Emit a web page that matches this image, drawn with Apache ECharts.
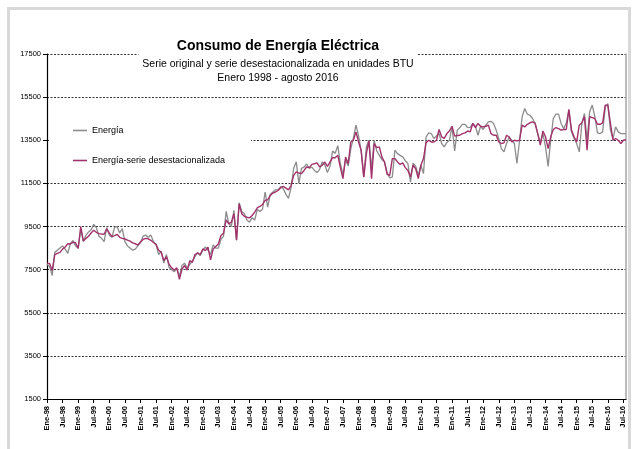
<!DOCTYPE html>
<html><head><meta charset="utf-8">
<script src="https://cdn.jsdelivr.net/npm/echarts@6/dist/echarts.min.js"></script>
<style>html,body{margin:0;padding:0;background:#fff}#c{width:636px;height:449px}</style>
</head><body><div id="c"></div>
<script>
const monthNames = ['Ene','Feb','Mar','Abr','May','Jun','Jul','Ago','Sep','Oct','Nov','Dic'];
const firstYear = 1998;
const lastYear = 2016;
const lastMonth = 8; // agosto
const categories = [];
for (let y = firstYear; y <= lastYear; y++) {
  for (let m = 0; m < 12; m++) {
    if (y === lastYear && m >= lastMonth) break;
    categories.push(monthNames[m] + '-' + String(y).slice(2));
  }
}

const energia = [
  7750, 7650, 7230, 8300, 8400, 8500, 8600, 8450, 8250, 8700, 8850, 8600,
  8500, 9350, 8800, 9100, 9250, 9350, 9600, 9450, 9050, 8950, 8800, 9450,
  9100, 9000, 9450, 9500, 9200, 9400, 8800, 8600, 8500, 8400, 8450, 8600,
  8750, 9050, 9100, 9000, 9100, 8800, 8650, 8200, 8350, 7800, 8200, 7600,
  7500, 7400, 7550, 7200, 7700, 7800, 7550, 7750, 7900, 8100, 8300, 8150,
  8400, 8550, 8400, 8200, 8650, 8500, 8500, 8900, 9050, 10200, 9650, 9500,
  10250, 8850, 10600, 10200, 10100, 9800, 9700, 9900, 9800, 10300, 10200, 10300,
  11100, 10400, 11000, 11100, 11200, 11200, 11350, 11250, 11000, 10800, 11300, 12200,
  12500, 11500, 12200, 12250, 12400, 12200, 12250, 12100, 12000, 12150, 12500, 12350,
  12000, 12300, 13000, 12900, 13250, 12400, 11900, 12600, 12300, 13100, 13600, 14200,
  13700, 13000, 11800, 13200, 13500, 12200, 13500, 13000, 12800, 12600, 12500, 12000,
  11750, 11800, 13040, 12880, 12800, 12730, 12550, 12420, 11560, 12440, 12300, 11870,
  12340, 11950, 13650, 13840, 13810, 13580, 13700, 13810, 13350, 13190, 13400, 13500,
  14120, 13000, 13960, 14090, 14240, 14240, 14090, 14100, 14280, 14150, 13730, 14150,
  14000, 14200, 14350, 14380, 14280, 13970, 13580, 13110, 12960, 13350, 13650, 13500,
  13350, 12420, 13500, 14590, 14970, 14710, 14660, 14510, 14280, 13810, 13380, 13810,
  13190, 12290, 13500, 14510, 14710, 14710, 14280, 14040, 14300, 14900, 13890, 13580,
  13350, 12960, 14280, 14740, 13500, 14820, 15130, 14590, 13840, 13810, 13890, 15050,
  15200, 13970, 13580, 14120, 13890, 13810, 13810, 13800
];

const energiaDesest = [
  7800, 7780, 7450, 8200, 8250, 8300, 8450, 8550, 8700, 8690, 8760, 8750,
  8480, 9500, 8830, 8950, 9050, 9200, 9330, 9230, 9170, 9150, 9140, 9390,
  9190, 9030, 9080, 9140, 9000, 8950, 8920, 8870, 8820, 8740, 8700, 8640,
  8780, 8900, 8950, 8930, 8860, 8760, 8670, 8400, 8300, 7920, 8100, 7760,
  7580, 7480, 7580, 7050, 7530, 7690, 7480, 7920, 7840, 8200, 8260, 8200,
  8460, 8380, 8540, 7950, 8460, 8570, 8690, 9080, 9190, 9810, 9620, 9700,
  10090, 8880, 10550, 10090, 9970, 9930, 9900, 10010, 10170, 10370, 10430, 10520,
  10710, 10740, 10940, 11050, 11100, 11170, 11300, 11360, 11280, 11200, 11400, 11870,
  12030, 11980, 11950, 12100, 12260, 12230, 12380, 12410, 12450, 12260, 12340, 12490,
  12290, 12490, 12690, 12690, 12800, 12230, 11720, 12720, 12410, 13420, 13500, 13890,
  13420, 13030, 11790, 12880, 13470, 11720, 13340, 13160, 13190, 12720, 12490, 11920,
  11870, 12650, 12650, 12490, 12380, 12450, 12230, 12100, 11800, 12340, 12180, 11720,
  12340, 12650, 13380, 13500, 13420, 13420, 13500, 14000, 13660, 13580, 13810, 13930,
  14150, 13690, 13720, 13730, 13810, 13840, 13930, 13890, 14280, 14090, 14280, 14150,
  14120, 14150, 14200, 13810, 13730, 13730, 13420, 13350, 13380, 13730, 13650, 13420,
  13500, 13470, 13500, 14200, 14120, 14240, 14310, 14350, 14280, 13810, 13270, 13930,
  13660, 13110, 13660, 14000, 14090, 14040, 13970, 14000, 14000, 14930, 13970, 13660,
  13420, 14200, 14310, 14590, 13040, 14590, 14550, 14510, 14240, 14240, 14310, 15130,
  15130, 14280, 13500, 13580, 13500, 13350, 13500, 13530
];

const yTicks = [1500, 3500, 5500, 7500, 9500, 11500, 13500, 15500, 17500];
const yMin = 1500, yMax = 17500;

const titleText = 'Consumo de Energía Eléctrica';
const subText = 'Serie original y serie desestacionalizada en unidades BTU\nEnero 1998 - agosto 2016';
const seriesNames = ['Energía', 'Energía-serie desestacionalizada'];

const chart = echarts.init(document.getElementById('c'), null, {renderer: 'canvas'});
const FONT = '"Liberation Sans", Arial, sans-serif';
chart.setOption({
  backgroundColor: '#fff',
  animation: false,
  textStyle: {fontFamily: FONT},
  graphic: [{
    type: 'rect', z: 100, silent: true,
    shape: {x: 8.5, y: 8.5, width: 621, height: 450},
    style: {fill: 'none', stroke: '#d9d9d9', lineWidth: 3}
  }],
  title: {
    text: titleText,
    subtext: subText,
    left: 274, top: 35,
    textAlign: 'center',
    padding: [4, 4, 5, 4],
    itemGap: 4,
    backgroundColor: '#fff',
    z: 10,
    textStyle: {fontFamily: FONT, fontSize: 14, fontWeight: 'bold', color: '#000'},
    subtextStyle: {fontFamily: FONT, fontSize: 10.5, color: '#000', lineHeight: 14}
  },
  legend: {
    orient: 'vertical',
    left: 49, top: 121,
    padding: [4, 26, 6, 24],
    itemGap: 19,
    icon: 'rect',
    itemWidth: 14, itemHeight: 1.6,
    backgroundColor: '#fff',
    z: 10,
    textStyle: {fontFamily: FONT, fontSize: 9, color: '#000', lineHeight: 11},
    data: seriesNames
  },
  grid: {left: 47, right: 10, top: 54, bottom: 50, containLabel: false},
  xAxis: {
    type: 'category',
    data: categories,
    boundaryGap: false,
    axisLine: {lineStyle: {color: '#000', width: 1.2}},
    axisTick: {show: true, interval: 5, length: 4, inside: false, lineStyle: {color: '#000'}},
    axisLabel: {interval: 5, rotate: 90, fontSize: 7.5, fontWeight: 'bold', color: '#000', margin: 7, fontFamily: FONT},
    splitLine: {show: false}
  },
  yAxis: [{
    type: 'value',
    min: yMin, max: yMax,
    axisLine: {show: true, lineStyle: {color: '#000', width: 1.2}},
    axisTick: {show: true, length: 4, customValues: yTicks, lineStyle: {color: '#000'}},
    axisLabel: {customValues: yTicks, formatter: v => String(v), fontSize: 7.5, color: '#000', margin: 6, fontFamily: FONT},
    splitLine: {show: true, lineStyle: {color: '#000', width: 0.8, type: [2, 1.5]}}
  }, {
    type: 'value',
    position: 'right',
    min: yMin, max: yMax,
    axisLine: {show: true, lineStyle: {color: '#a6a6a6', width: 1.5}},
    axisTick: {show: false},
    axisLabel: {show: false},
    splitLine: {show: false}
  }],
  series: [{
    name: seriesNames[0],
    type: 'line',
    data: energia,
    symbol: 'none',
    lineStyle: {color: '#8c8c8c', width: 1.3},
    itemStyle: {color: '#8c8c8c'},
    z: 2
  }, {
    name: seriesNames[1],
    type: 'line',
    data: energiaDesest,
    symbol: 'none',
    lineStyle: {color: '#a1326b', width: 1.4},
    itemStyle: {color: '#a1326b'},
    z: 3
  }]
});
</script>
</body></html>
